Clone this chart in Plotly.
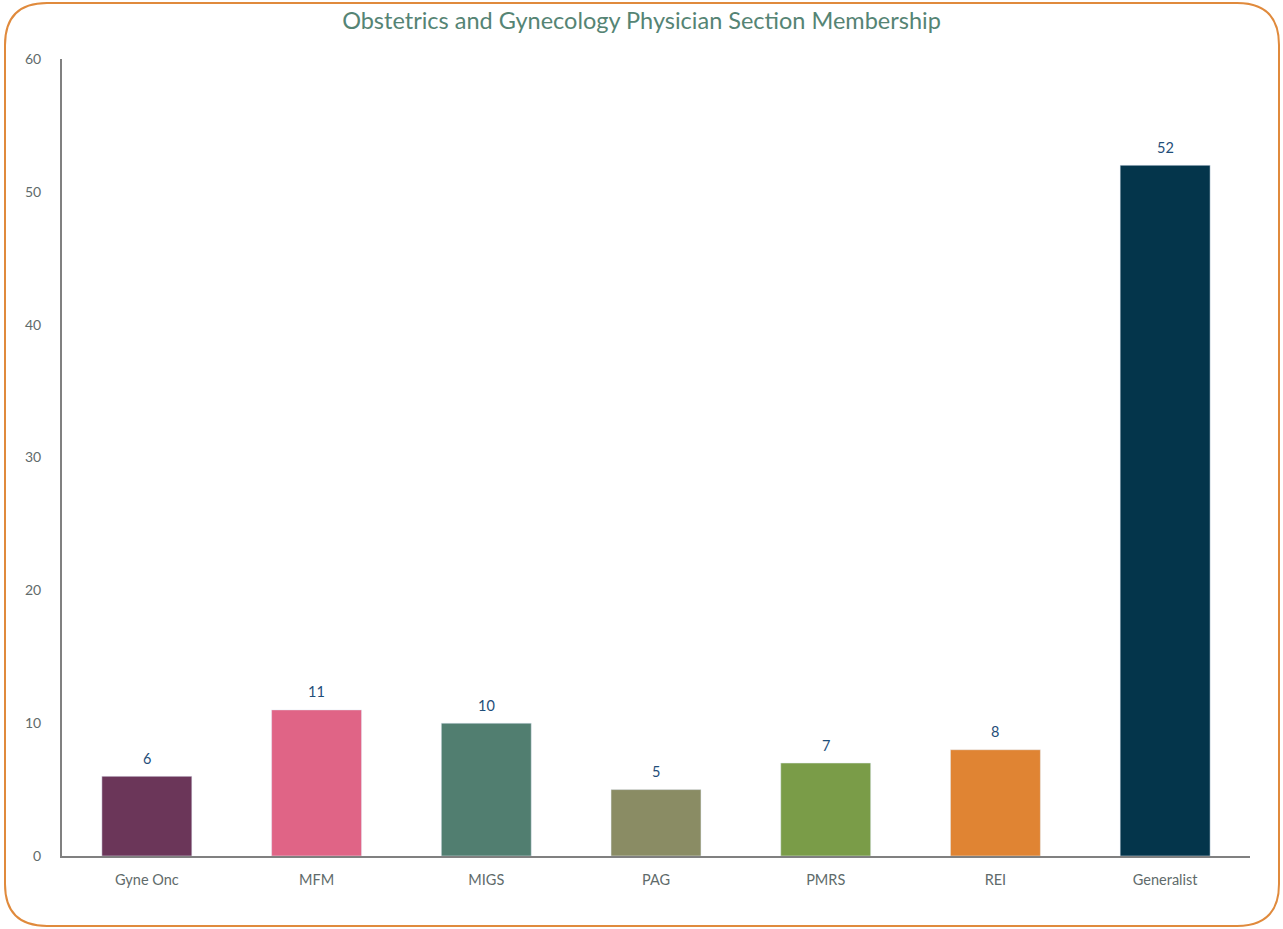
import plotly.graph_objects as go

categories = ["Gyne Onc", "MFM", "MIGS", "PAG", "PMRS", "REI", "Generalist"]
values = [6, 11, 10, 5, 7, 8, 52]
colors = ["#6B3659", "#E06486", "#517E70", "#8A8C64", "#7A9C48", "#E08433", "#04354B"]
y_ticks = [0, 10, 20, 30, 40, 50, 60]

W, H = 1283, 929
L, R, T, B = 62, 33, 59, 73
pw, ph = W - L - R, H - T - B
FONT = "Lato, Open Sans, sans-serif"

def px(x):
    return (x - L) / pw

def py(y):
    return (H - B - y) / ph

fig = go.Figure(go.Bar(
    x=categories, y=values, marker_color=colors, width=0.53,
    hoverinfo="x+y",
))

annotations = [
    dict(x=c, y=v, xref="x", yref="y", text=str(v), showarrow=False,
         yshift=18, font=dict(family=FONT, size=14.5, color="#1F4E79"))
    for c, v in zip(categories, values)
]

# rounded border
x0, x1, y0, y1, r = 5, 1279, 3, 926, 42
pts = (f"M {px(x0+r)},{py(y0)} L {px(x1-r)},{py(y0)} Q {px(x1)},{py(y0)} {px(x1)},{py(y0+r)} "
       f"L {px(x1)},{py(y1-r)} Q {px(x1)},{py(y1)} {px(x1-r)},{py(y1)} "
       f"L {px(x0+r)},{py(y1)} Q {px(x0)},{py(y1)} {px(x0)},{py(y1-r)} "
       f"L {px(x0)},{py(y0+r)} Q {px(x0)},{py(y0)} {px(x0+r)},{py(y0)} Z")

fig.update_layout(
    width=W, height=H,
    margin=dict(l=L, r=R, t=T, b=B),
    paper_bgcolor="white", plot_bgcolor="white",
    title=dict(text="Obstetrics and Gynecology Physician Section Membership",
               x=0.5, xanchor="center", y=1 - 21 / H, yanchor="middle",
               font=dict(family=FONT, size=23.5, color="#558474")),
    showlegend=False,
    xaxis=dict(showline=True, linecolor="#808080", linewidth=2, ticks="",
               tickfont=dict(family=FONT, size=14.5, color="#5F6B6B"),
               showgrid=False, ticklabelstandoff=10),
    yaxis=dict(range=[0, 60], tickvals=y_ticks, showline=True, linecolor="#808080", linewidth=2,
               showgrid=False, zeroline=False, ticks="", ticklabelstandoff=16,
               tickfont=dict(family=FONT, size=14, color="#5F6B6B")),
    annotations=annotations,
    shapes=[dict(type="path", xref="paper", yref="paper", path=pts,
                 line=dict(color="#E08A3C", width=2), layer="above")],
)

fig.write_html("out.html", config={"displayModeBar": False},
               post_script="document.body.style.margin='0';document.body.style.overflow='hidden';")
